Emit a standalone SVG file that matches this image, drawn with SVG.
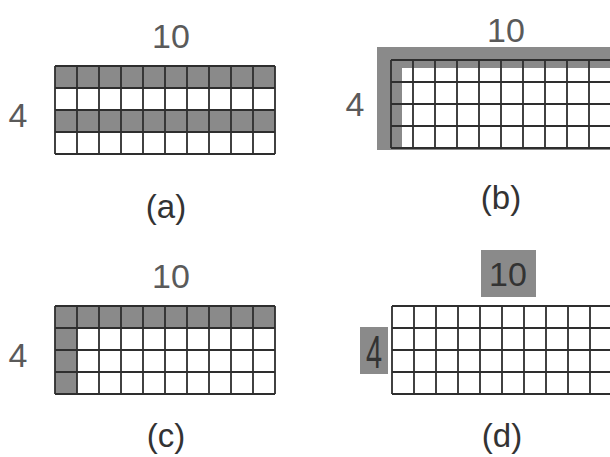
<svg xmlns="http://www.w3.org/2000/svg" width="610" height="457" viewBox="0 0 610 457">
<style>
.lbl{font-family:"Liberation Sans",Arial,sans-serif;fill:#5a5a5a;text-anchor:middle;font-size:34px}
.cap{font-family:"Liberation Sans",Arial,sans-serif;fill:#333;text-anchor:middle;font-size:33px}
.grid{fill:none;stroke:#2e2e2e;stroke-width:1.8}
.sh{fill:#8a8a8a}
.dk{fill:#333}
</style>
<rect width="610" height="457" fill="#fff"/>
<g id="panel-a">
<rect class="sh" x="55" y="66" width="220" height="22"/>
<rect class="sh" x="55" y="110" width="220" height="22"/>
<path class="grid" d="M55 66H275M55 88H275M55 110H275M55 132H275M55 154H275M55 66V154M77 66V154M99 66V154M121 66V154M143 66V154M165 66V154M187 66V154M209 66V154M231 66V154M253 66V154M275 66V154"/>
<text class="lbl" x="171" y="48">10</text>
<text class="lbl" x="18" y="127">4</text>
<text class="cap" x="166" y="218">(a)</text>
</g>
<g id="panel-b">
<rect class="sh" x="377" y="47" width="240" height="103"/>
<rect fill="#fff" x="402" y="68" width="215" height="80"/>
<path class="grid" d="M391 60H612M391 82H612M391 104H612M391 126H612M391 148H612M391 60V148M413 60V148M435 60V148M457 60V148M479 60V148M501 60V148M523 60V148M545 60V148M567 60V148M589 60V148M611 60V148"/>
<text class="lbl" x="506" y="42">10</text>
<text class="lbl" x="355" y="116">4</text>
<text class="cap" x="501" y="209">(b)</text>
</g>
<g id="panel-c">
<rect class="sh" x="55" y="306" width="220" height="22"/>
<rect class="sh" x="55" y="306" width="22" height="88"/>
<path class="grid" d="M55 306H275M55 328H275M55 350H275M55 372H275M55 394H275M55 306V394M77 306V394M99 306V394M121 306V394M143 306V394M165 306V394M187 306V394M209 306V394M231 306V394M253 306V394M275 306V394"/>
<text class="lbl" x="171" y="288">10</text>
<text class="lbl" x="18" y="367">4</text>
<text class="cap" x="166" y="447">(c)</text>
</g>
<g id="panel-d">
<rect class="sh" x="481" y="250" width="55" height="47"/>
<rect class="sh" x="360" y="327" width="28" height="47"/>
<path class="grid" d="M392 306H612M392 328H612M392 350H612M392 372H612M392 394H612M392 306V394M414 306V394M436 306V394M458 306V394M480 306V394M502 306V394M524 306V394M546 306V394M568 306V394M590 306V394M612 306V394"/>
<text class="lbl dk" x="508" y="286" style="fill:#333">10</text>
<text class="lbl" x="0" y="0" style="fill:#333" transform="translate(374 368) scale(0.85 1.35)">4</text>
<text class="cap" x="502" y="447">(d)</text>
</g>
</svg>
